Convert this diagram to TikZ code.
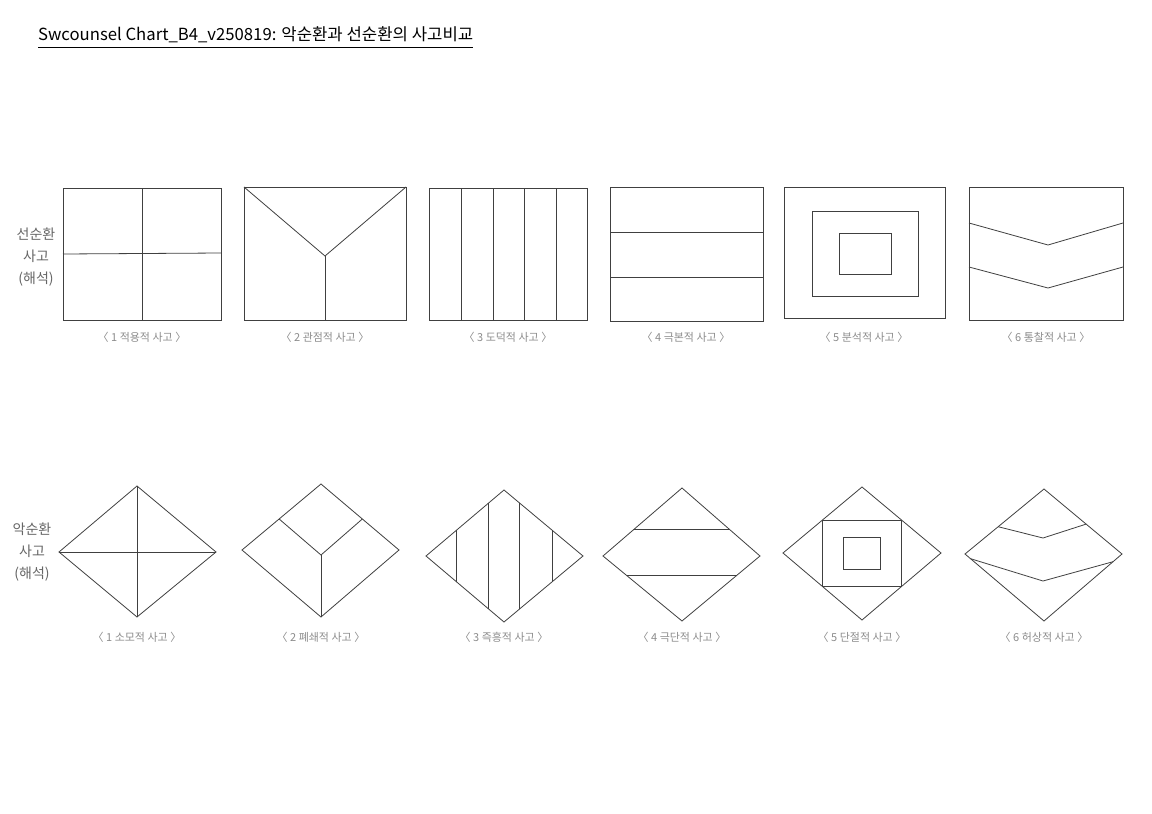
\documentclass[tikz,border=0pt]{standalone}
\usepackage{fontspec}
\setmainfont{Noto Sans CJK KR}
\usetikzlibrary{positioning,calc}

\begin{document}
\begin{tikzpicture}[x=1pt,y=-1pt,
    fig/.style={draw=black!75,line width=0.8pt},
    caption/.style={text=black!45,inner sep=0pt,font=\fontsize{11}{13}\selectfont},
    rowlabel/.style={text=black!60,align=center,inner sep=0pt,font=\fontsize{14}{22}\selectfont}]
   \useasboundingbox[fill=white] (0,0) rectangle (1152,814);

   % title
   \node[anchor=base west,inner sep=0pt,font=\fontsize{16.7}{20}\selectfont] (title) at (38,40)
     {Swcounsel Chart\_B4\_v250819: 악순환과 선순환의 사고비교};
   \draw[line width=0.8pt] ([yshift=-7pt]title.base west) -- ([yshift=-7pt]title.base east);

   % row labels
   \node[rowlabel] (good) at (36,257) {선순환\\사고\\(해석)};
   \node[rowlabel] (bad)  at (32,552) {악순환\\사고\\(해석)};

   % top row: rectangles
   \draw[fig] (63,188) rectangle (221,320);
   \draw[fig] (142,188) -- (142,320);
   \draw[fig] (63,254) -- (221,253);

   \draw[fig] (244,187) rectangle (406,320);
   \draw[fig] (244,187) -- (325,256) -- (406,187);
   \draw[fig] (325,256) -- (325,320);

   \draw[fig] (429,188) rectangle (587,320);
   \draw[fig] (461,188) -- (461,320);
   \draw[fig] (493,188) -- (493,320);
   \draw[fig] (524,188) -- (524,320);
   \draw[fig] (556,188) -- (556,320);

   \draw[fig] (610,187) rectangle (763,321);
   \draw[fig] (610,232) -- (763,232);
   \draw[fig] (610,277) -- (763,277);

   \draw[fig] (784,187) rectangle (945,318);
   \draw[fig] (812,211) rectangle (918,296);
   \draw[fig] (839,233) rectangle (891,274);

   \draw[fig] (969,187) rectangle (1123,320);
   \draw[fig] (969,223) -- (1048,245) -- (1123,223);
   \draw[fig] (969,267) -- (1048,288) -- (1123,267);

   \node[caption] (P1) at (142,337) {〈 1 적용적 사고 〉};
   \node[caption] (P2) at (325,337) {〈 2 관점적 사고 〉};
   \node[caption] (P3) at (508,337) {〈 3 도덕적 사고 〉};
   \node[caption] (P4) at (686,337) {〈 4 극본적 사고 〉};
   \node[caption] (P5) at (864,337) {〈 5 분석적 사고 〉};
   \node[caption] (P6) at (1046,337) {〈 6 통찰적 사고 〉};

   % bottom row: diamonds
   \coordinate (t1) at (137,486);  \coordinate (l1) at (59,552);
   \coordinate (r1) at (216,552);  \coordinate (b1) at (137,617);
   \draw[fig] (t1) -- (r1) -- (b1) -- (l1) -- cycle;
   \draw[fig] (t1) -- (b1);
   \draw[fig] (l1) -- (r1);

   \coordinate (t2) at (321,484);  \coordinate (l2) at (242,550);
   \coordinate (r2) at (399,550);  \coordinate (b2) at (321,617);
   \coordinate (m2) at (321,555);
   \draw[fig] (t2) -- (r2) -- (b2) -- (l2) -- cycle;
   \draw[fig] ($(l2)!0.47!(t2)$) -- (m2) -- ($(r2)!0.47!(t2)$);
   \draw[fig] (m2) -- (b2);

   \coordinate (t3) at (504,490);  \coordinate (l3) at (426,556);
   \coordinate (r3) at (583,556);  \coordinate (b3) at (504,622);
   \draw[fig] (t3) -- (r3) -- (b3) -- (l3) -- cycle;
   \draw[fig] ($(l3)!0.39!(t3)$) -- ($(l3)!0.39!(b3)$);
   \draw[fig] ($(l3)!0.80!(t3)$) -- ($(l3)!0.80!(b3)$);
   \draw[fig] ($(r3)!0.81!(t3)$) -- ($(r3)!0.81!(b3)$);
   \draw[fig] ($(r3)!0.39!(t3)$) -- ($(r3)!0.39!(b3)$);

   \coordinate (t4) at (682,488);  \coordinate (l4) at (603,556);
   \coordinate (r4) at (760,556);  \coordinate (b4) at (682,621);
   \draw[fig] (t4) -- (r4) -- (b4) -- (l4) -- cycle;
   \draw[fig] ($(l4)!0.39!(t4)$) -- ($(r4)!0.39!(t4)$);
   \draw[fig] ($(l4)!0.30!(b4)$) -- ($(r4)!0.30!(b4)$);

   \coordinate (t5) at (862,487);  \coordinate (l5) at (783,553);
   \coordinate (r5) at (941,553);  \coordinate (b5) at (862,620);
   \draw[fig] (t5) -- (r5) -- (b5) -- (l5) -- cycle;
   \draw[fig] ($(l5)!0.5!(t5)$) rectangle ($(r5)!0.5!(b5)$);
   \draw[fig] (843,537) rectangle (880,569);

   \coordinate (t6) at (1044,489); \coordinate (l6) at (965,554);
   \coordinate (r6) at (1122,554); \coordinate (b6) at (1044,621);
   \draw[fig] (t6) -- (r6) -- (b6) -- (l6) -- cycle;
   \draw[fig] ($(l6)!0.42!(t6)$) -- (1043,538) -- ($(r6)!0.46!(t6)$);
   \draw[fig] ($(l6)!0.07!(b6)$) -- (1043,581) -- ($(r6)!0.115!(b6)$);

   \node[caption] (N1) at (137,637) {〈 1 소모적 사고 〉};
   \node[caption] (N2) at (321,637) {〈 2 폐쇄적 사고 〉};
   \node[caption] (N3) at (504,637) {〈 3 즉흥적 사고 〉};
   \node[caption] (N4) at (682,637) {〈 4 극단적 사고 〉};
   \node[caption] (N5) at (862,637) {〈 5 단절적 사고 〉};
   \node[caption] (N6) at (1044,637) {〈 6 허상적 사고 〉};
\end{tikzpicture}
\end{document}
